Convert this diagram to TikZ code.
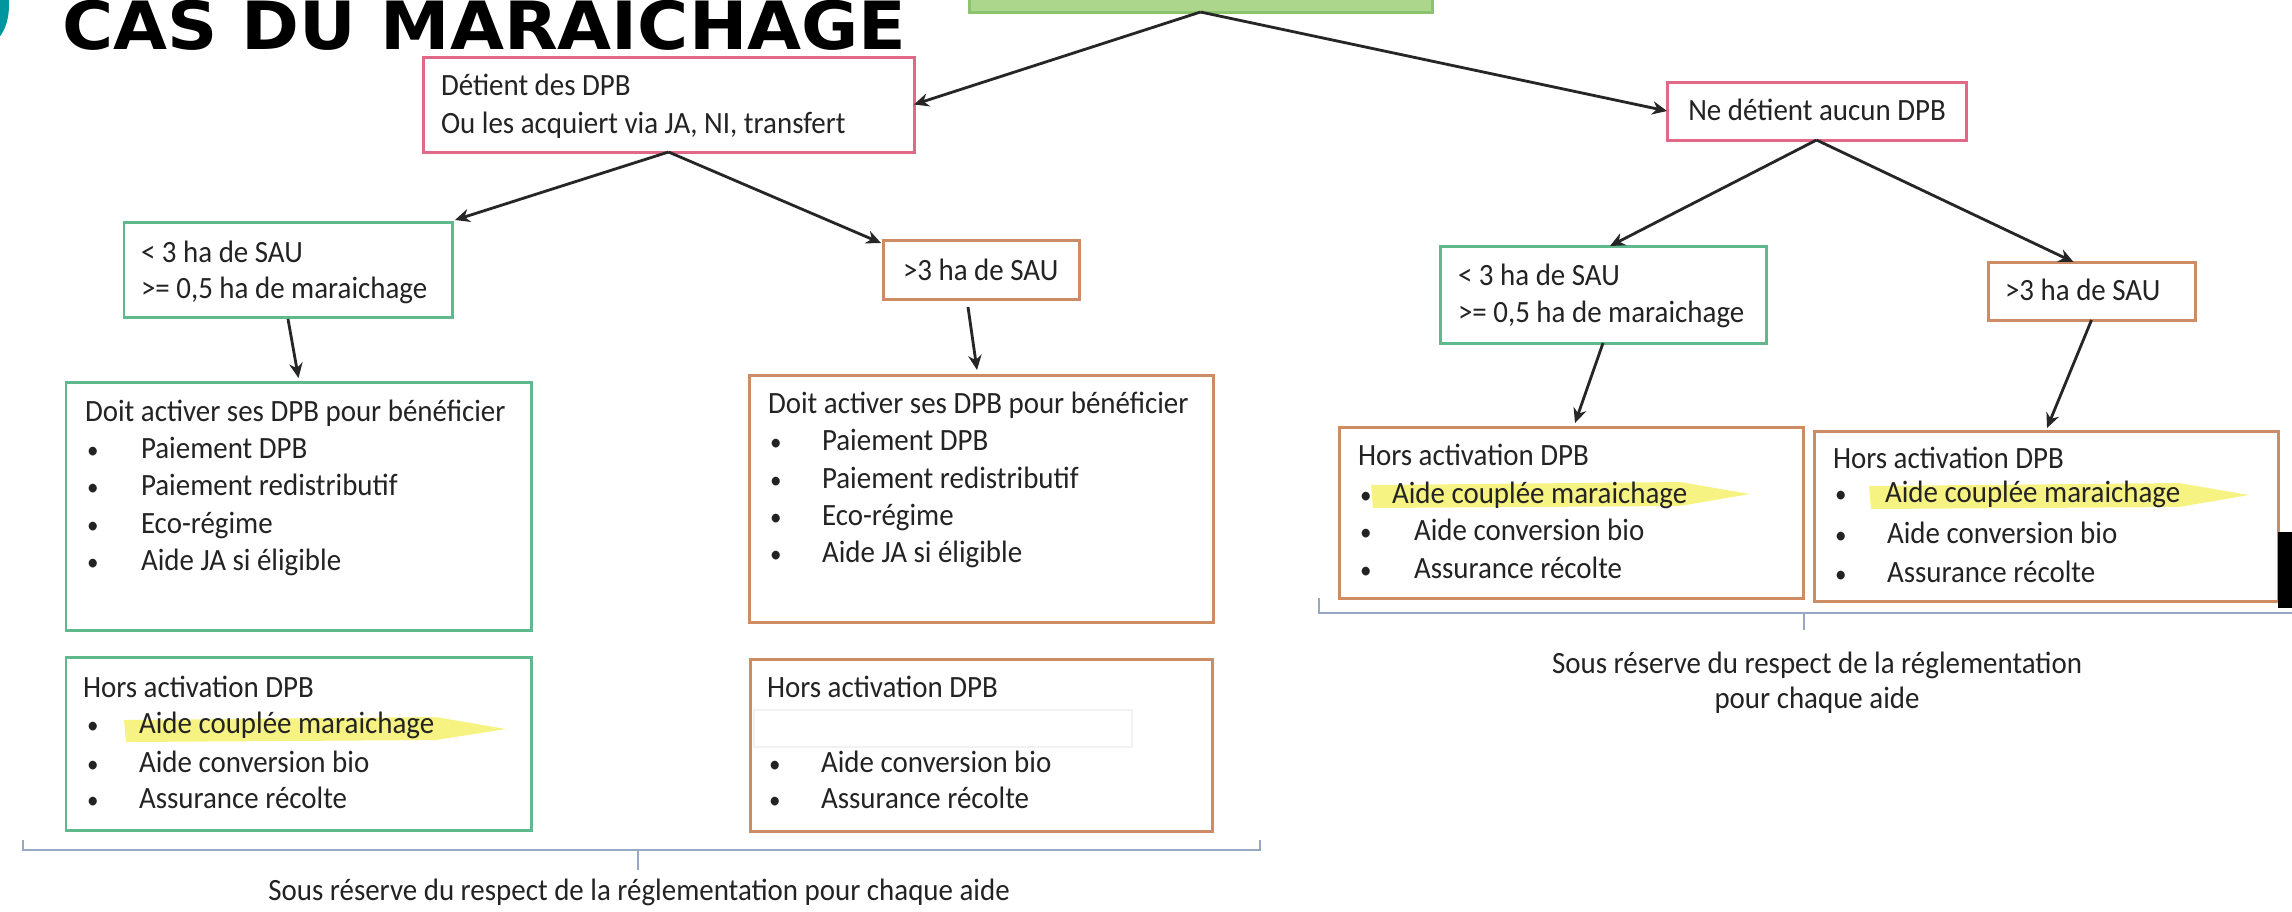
\documentclass[tikz,border=0pt]{standalone}
\usepackage{fontspec}
\setmainfont{Carlito}[FakeStretch=0.935]
\newfontfamily\titlefont{DejaVu Sans}[FakeStretch=1.05]
\usetikzlibrary{arrows.meta,fit,calc}
\definecolor{pinkb}{RGB}{225,105,135}
\definecolor{greenb}{RGB}{95,185,140}
\definecolor{orangeb}{RGB}{205,140,100}
\definecolor{topfill}{RGB}{172,214,140}
\definecolor{topdraw}{RGB}{140,195,110}
\definecolor{tealc}{RGB}{0,150,160}
\definecolor{brack}{RGB}{150,168,195}
\definecolor{hl}{RGB}{245,240,90}
\definecolor{txt}{RGB}{35,35,35}
\newcommand{\bul}{{\fontsize{7}{8}\selectfont\textbullet}}
\tikzset{
  every node/.style={font=\fontsize{8.8}{10.7}\selectfont, text=txt, inner sep=0pt, outer sep=0pt},
  box/.style={draw, line width=0.85pt, fill=white, inner sep=0pt},
  tl/.style={anchor=base west},
  tc/.style={anchor=base},
  arr/.style={-{Stealth[length=4.2pt,width=3.8pt]}, line width=0.8pt, black!85},
  brk/.style={draw=brack, line width=0.6pt},
  hlmark/.style={fill=hl, opacity=0.75}
}
\begin{document}
\begin{tikzpicture}[x=0.01cm, y=-0.01cm]
\path[use as bounding box, fill=white] (0,0) rectangle (2292,911);

% title
\fill[tealc] (-12,5) ellipse [x radius=0.21cm, y radius=0.38cm];
\node[tl, font=\titlefont\bfseries\fontsize{18.9}{21}\selectfont, text=black] (title) at (62,49.5) {CAS DU MARAICHAGE};

% boxes
\node[box, draw=topdraw, fill=topfill, fit={(969,-30) (1432,12)}] (top) {};
\node[box, draw=pinkb, fit={(423,57) (914,152)}] (det) {};
\node[box, draw=pinkb, fit={(1667,82) (1966,140)}] (ne) {};
\node[box, draw=greenb, fit={(124,222) (452,317)}] (lt) {};
\node[box, draw=orangeb, fit={(883,240) (1079,299)}] (mt) {};
\node[box, draw=greenb, fit={(66,382) (531,630)}] (ld) {};
\node[box, draw=orangeb, fit={(749,375) (1213,622)}] (md) {};
\node[box, draw=greenb, fit={(66,657) (531,830)}] (lh) {};
\node[box, draw=orangeb, fit={(750,659) (1212,831)}] (mh) {};
\node[box, draw=greenb, fit={(1440,246) (1766,343)}] (rt) {};
\node[box, draw=orangeb, fit={(1988,262) (2195,320)}] (rr) {};
\node[box, draw=orangeb, fit={(1339,427) (1803,598)}] (ra) {};
\node[box, draw=orangeb, fit={(1814,431) (2278,601)}] (rb) {};

% faint cover rectangle in middle lower box
\draw[gray!10, fill=white] (754,710) rectangle (1132,747);

% highlights
\fill[hlmark] (124,720) -- (436,717) -- (506,729) -- (436,740) -- (126,742) -- cycle;
\fill[hlmark] (1371,485) -- (1680,482) -- (1750,494) -- (1680,506) -- (1373,508) -- cycle;
\fill[hlmark] (1869,486) -- (2179,483) -- (2249,495) -- (2179,507) -- (1871,509) -- cycle;

% arrows
\draw[arr] (top.south) -- (det.east);
\draw[arr] (top.south) -- (ne.west);
\draw[arr] (det.south) -- ($(lt.north east)+(3,-2)$);
\draw[arr] (det.south) -- ($(mt.north west)+(-2,3)$);
\draw[arr] ($(lt.south)+(0,2)$) -- ($(ld.north)+(0,-4)$);
\draw[arr] ($(mt.south)+(-13,8)$) -- ($(md.north)+(-4,-5)$);
\draw[arr] (ne.south) -- ($(rt.north)+(7,0)$);
\draw[arr] (ne.south) -- ($(rr.north)+(-18,0)$);
\draw[arr] (rt.south) -- ($(ra.north)+(4,-4)$);
\draw[arr] (rr.south) -- ($(rb.north)+(1,-3)$);

% texts
\node[tl] (det1) at (441,95) {Détient des DPB};
\node[tl] (det2) at (441,133) {Ou les acquiert via JA, NI, transfert};
\node[tc] (ne1) at (1817,120) {Ne détient aucun DPB};

\node[tl] (lt1) at (141,262) {< 3 ha de SAU};
\node[tl] (lt2) at (141,298) {>= 0,5 ha de maraichage};
\node[tl] (mt1) at (903,280) {>3 ha de SAU};
\node[tl] (rt1) at (1458,285) {< 3 ha de SAU};
\node[tl] (rt2) at (1458,322) {>= 0,5 ha de maraichage};
\node[tl] (rr1) at (2005,300) {>3 ha de SAU};

\node[tl] (ld0) at (85,421) {Doit activer ses DPB pour bénéficier};
\node[tl] (ldb1) at (87,458) {\bul};
\node[tl] (ldb2) at (87,495) {\bul};
\node[tl] (ldb3) at (87,533) {\bul};
\node[tl] (ldb4) at (87,570) {\bul};
\node[tl] (ld1) at (141,458) {Paiement DPB};
\node[tl] (ld2) at (141,495) {Paiement redistributif};
\node[tl] (ld3) at (141,533) {Eco-régime};
\node[tl] (ld4) at (141,570) {Aide JA si éligible};

\node[tl] (md0) at (768,413) {Doit activer ses DPB pour bénéficier};
\node[tl] (mdb1) at (770,450) {\bul};
\node[tl] (mdb2) at (770,488) {\bul};
\node[tl] (mdb3) at (770,525) {\bul};
\node[tl] (mdb4) at (770,562) {\bul};
\node[tl] (md1) at (822,450) {Paiement DPB};
\node[tl] (md2) at (822,488) {Paiement redistributif};
\node[tl] (md3) at (822,525) {Eco-régime};
\node[tl] (md4) at (822,562) {Aide JA si éligible};

\node[tl] (lh0) at (83,697) {Hors activation DPB};
\node[tl] (lhb1) at (87,733) {\bul};
\node[tl] (lhb2) at (87,772) {\bul};
\node[tl] (lhb3) at (87,808) {\bul};
\node[tl] (lh1) at (139,733) {Aide couplée maraichage};
\node[tl] (lh2) at (139,772) {Aide conversion bio};
\node[tl] (lh3) at (139,808) {Assurance récolte};

\node[tl] (mh0) at (767,697) {Hors activation DPB};
\node[tl] (mhb2) at (769,772) {\bul};
\node[tl] (mhb3) at (769,808) {\bul};
\node[tl] (mh2) at (821,772) {Aide conversion bio};
\node[tl] (mh3) at (821,808) {Assurance récolte};

\node[tl] (ra0) at (1358,465) {Hors activation DPB};
\node[tl] (rab1) at (1360,503) {\bul};
\node[tl] (rab2) at (1360,540) {\bul};
\node[tl] (rab3) at (1360,578) {\bul};
\node[tl] (ra1) at (1392,503) {Aide couplée maraichage};
\node[tl] (ra2) at (1414,540) {Aide conversion bio};
\node[tl] (ra3) at (1414,578) {Assurance récolte};

\node[tl] (rb0) at (1833,468) {Hors activation DPB};
\node[tl] (rbb1) at (1835,502) {\bul};
\node[tl] (rbb2) at (1835,543) {\bul};
\node[tl] (rbb3) at (1835,582) {\bul};
\node[tl] (rb1) at (1885,502) {Aide couplée maraichage};
\node[tl] (rb2) at (1887,543) {Aide conversion bio};
\node[tl] (rb3) at (1887,582) {Assurance récolte};

% brackets
\draw[brk] (23,840) -- (23,850) -- (1260,850) -- (1260,840);
\draw[brk] (638,850) -- (638,870);
\draw[brk] (1319,598) -- (1319,613) -- (2292,613);
\draw[brk] (1804,613) -- (1804,630);

\node[tc] (capl) at (639,900) {Sous réserve du respect de la réglementation pour chaque aide};
\node[tc] (capr1) at (1817,673) {Sous réserve du respect de la réglementation};
\node[tc] (capr2) at (1817,708) {pour chaque aide};

% black bar at right edge
\fill[black] (2278,532) rectangle (2292,608);
\end{tikzpicture}
\end{document}
